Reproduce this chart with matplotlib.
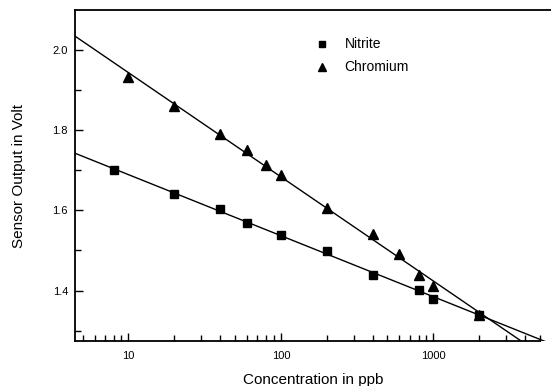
import numpy as np
import matplotlib
matplotlib.use('Agg')
import matplotlib.pyplot as plt
from matplotlib.ticker import FixedLocator, LogLocator, NullFormatter, FuncFormatter

plt.rcParams['font.family'] = ['Liberation Sans', 'DejaVu Sans']

# data
nitrite_x = [8, 20, 40, 60, 100, 200, 400, 800, 1000, 2000]
nitrite_y = [1.700, 1.642, 1.604, 1.568, 1.539, 1.498, 1.439, 1.402, 1.379, 1.340]
chrom_x = [10, 20, 40, 60, 80, 100, 200, 400, 600, 800, 1000, 2000]
chrom_y = [1.932, 1.860, 1.790, 1.750, 1.712, 1.689, 1.607, 1.542, 1.490, 1.439, 1.412, 1.340]

XMIN, XMAX = 4.46, 5920
YMIN, YMAX = 1.274, 2.10

fig = plt.figure(figsize=(5.51, 3.86), dpi=100)
ax = fig.add_axes([75/551, 45/386, 476/551, 331/386])
ax.set_xscale('log')
ax.set_xlim(XMIN, XMAX)
ax.set_ylim(YMIN, YMAX)

# linear fits in log10(x)
xx = np.logspace(np.log10(XMIN) - 0.05, np.log10(XMAX) + 0.05, 200)
for xs, ys in [(nitrite_x, nitrite_y), (chrom_x, chrom_y)]:
    k, b = np.polyfit(np.log10(xs), ys, 1)
    ax.plot(xx, k * np.log10(xx) + b, color='black', lw=1.0)

ax.plot(nitrite_x, nitrite_y, 's', color='black', ms=5.5, label='Nitrite', zorder=3)
ax.plot(chrom_x, chrom_y, '^', color='black', ms=7, label='Chromium', zorder=3)

ax.spines['right'].set_visible(False)
for s in ['left', 'bottom', 'top']:
    ax.spines[s].set_linewidth(1.3)
ax.spines['bottom'].set_bounds(XMIN, 5000)

ax.xaxis.set_major_locator(FixedLocator([10, 100, 1000]))
ax.xaxis.set_minor_locator(LogLocator(base=10, subs=np.arange(2, 10)))
ax.xaxis.set_minor_formatter(NullFormatter())
ax.xaxis.set_major_formatter(FuncFormatter(lambda v, p: f'{v:.0f}'))
ax.yaxis.set_major_locator(FixedLocator([1.4, 1.6, 1.8, 2.0]))
ax.yaxis.set_minor_locator(FixedLocator([1.3, 1.5, 1.7, 1.9]))
ax.yaxis.set_major_formatter(FuncFormatter(lambda v, p: f'{v:.1f}'))

ax.tick_params(which='both', direction='in', labelsize=8, width=1.0)
ax.tick_params(axis='x', which='major', length=6, pad=7, top=False)
ax.tick_params(axis='x', which='minor', length=4, top=False)
ax.tick_params(axis='y', which='major', length=6, pad=5)
ax.tick_params(axis='y', which='minor', length=4)

ax.set_xlabel('Concentration in ppb', fontsize=11, labelpad=9)
ax.set_ylabel('Sensor Output in Volt', fontsize=11, labelpad=19)

leg = ax.legend(loc='upper left', bbox_to_anchor=(0.47, 0.955), frameon=False,
                fontsize=10, handletextpad=0.9, labelspacing=0.65, numpoints=1,
                handlelength=1.5, markerscale=0.9)

fig.savefig('out.png', dpi=100)
